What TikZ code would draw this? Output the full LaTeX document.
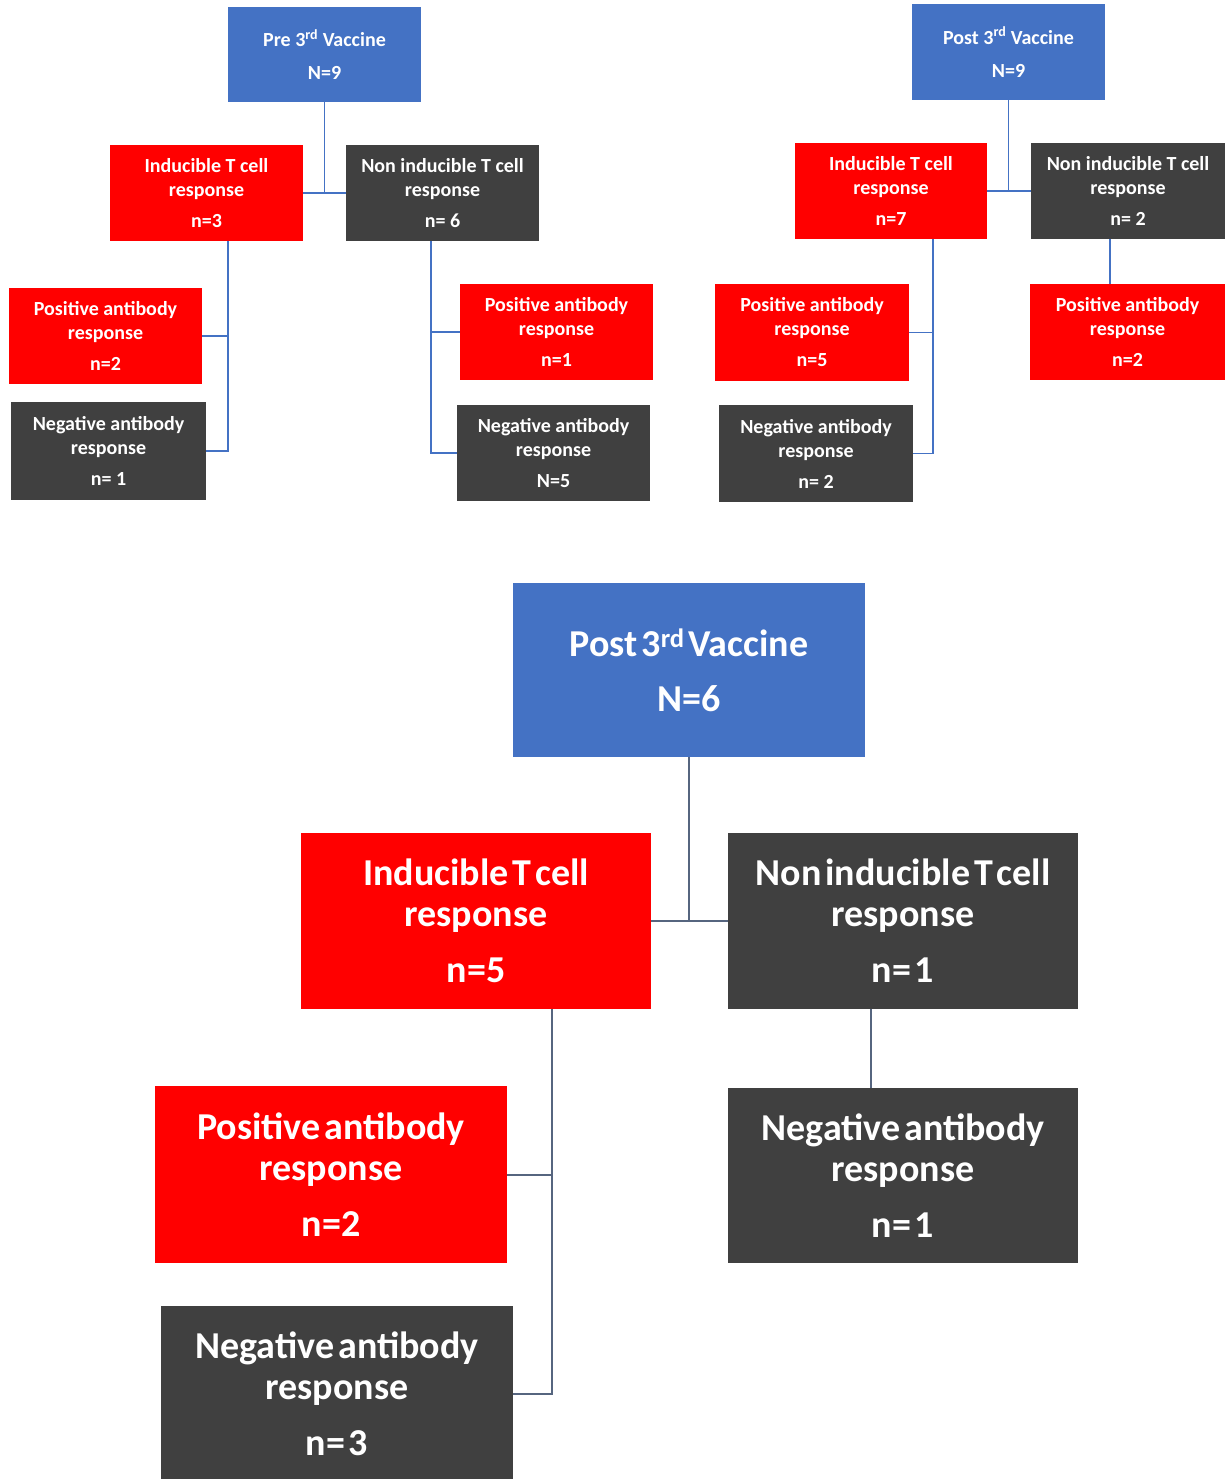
\documentclass[tikz,border=0pt]{standalone}
\usepackage{fontspec}
\setmainfont{Carlito}
\newfontfamily\bigf[WordSpace=0.45]{Carlito}
\usetikzlibrary{calc}
\definecolor{bblue}{HTML}{4472C4}
\definecolor{bred}{HTML}{FF0000}
\definecolor{bdark}{HTML}{404040}
\definecolor{lblue}{HTML}{4472C4}
\definecolor{lslate}{HTML}{56657F}
\begin{document}
\begin{tikzpicture}[x=1pt,y=-1pt,
  sz/.style 2 args={minimum width=#1pt, minimum height=#2pt},
  box/.style={rectangle, inner sep=0pt, align=center, text=white,
    font=\fontsize{20}{24}\selectfont\bfseries},
  big/.style={rectangle, inner sep=0pt, align=center, text=white,
    font=\bigf\fontsize{38}{41}\selectfont\bfseries},
  redbox/.style={fill=bred},
  darkbox/.style={fill=bdark},
  bluebox/.style={fill=bblue},
  thinline/.style={draw=lblue, line width=1.5pt},
  thickline/.style={draw=lslate, line width=2pt}]
\useasboundingbox (0,0) rectangle (1226,1479);

% ---------- top left: Pre 3rd vaccine ----------
\node[box,bluebox,sz={193}{95}] (pre) at (324.5,54.5) {Pre 3\textsuperscript{rd} Vaccine\\[9pt]N=9};
\node[box,redbox,sz={193}{96}] (i1) at (206.5,193) {Inducible T cell\\response\\[7pt]n=3};
\node[box,darkbox,sz={193}{96}] (n1) at (442.5,193) {Non inducible T cell\\response\\[7pt]n= 6};
\node[box,redbox,sz={193}{96}] (p1) at (105.5,336) {Positive antibody\\response\\[7pt]n=2};
\node[box,darkbox,sz={195}{98}] (g1) at (108.5,451) {Negative antibody\\response\\[7pt]n= 1};
\node[box,redbox,sz={193}{96}] (p2) at (556.5,332) {Positive antibody\\response\\[7pt]n=1};
\node[box,darkbox,sz={193}{96}] (g2) at (553.5,453) {Negative antibody\\response\\[7pt]N=5};

\draw[thinline] (pre.south) -- (pre.south |- i1.east);
\draw[thinline] (i1.east) -- (n1.west);
\coordinate (j1) at (228,241);
\draw[thinline] (j1) |- (g1.east);
\draw[thinline] (j1 |- p1.east) -- (p1.east);
\coordinate (j2) at (431,241);
\draw[thinline] (j2) |- (g2.west);
\draw[thinline] (j2 |- p2.west) -- (p2.west);

% ---------- top right: Post 3rd vaccine ----------
\node[box,bluebox,sz={193}{96}] (post) at (1008.5,52) {Post 3\textsuperscript{rd} Vaccine\\[9pt]N=9};
\node[box,redbox,sz={192}{96}] (i2) at (891,191) {Inducible T cell\\response\\[7pt]n=7};
\node[box,darkbox,sz={194}{96}] (n2) at (1128,191) {Non inducible T cell\\response\\[7pt]n= 2};
\node[box,redbox,sz={194}{97}] (p3) at (812,332.5) {Positive antibody\\response\\[7pt]n=5};
\node[box,darkbox,sz={194}{97}] (g3) at (816,453.5) {Negative antibody\\response\\[7pt]n= 2};
\node[box,redbox,sz={195}{96}] (p4) at (1127.5,332) {Positive antibody\\response\\[7pt]n=2};

\draw[thinline] (post.south) -- (post.south |- i2.east);
\draw[thinline] (i2.east) -- (n2.west);
\coordinate (j3) at (933,239);
\draw[thinline] (j3) |- (g3.east);
\draw[thinline] (j3 |- p3.east) -- (p3.east);
\coordinate (j4) at (1110,239);
\draw[thinline] (j4) -- (j4 |- p4.north);

% ---------- bottom: Post 3rd vaccine N=6 ----------
\node[big,bluebox,sz={352}{174}] (post6) at (689,670) {Post 3\textsuperscript{rd} Vaccine\\[14pt]N=6};
\node[big,redbox,sz={350}{176}] (i3) at (476,921) {Inducible T cell\\response\\[15pt]n=5};
\node[big,darkbox,sz={350}{176}] (n3) at (903,921) {Non inducible T cell\\response\\[15pt]n= 1};
\node[big,redbox,sz={352}{177}] (p5) at (331,1174.5) {Positive antibody\\response\\[15pt]n=2};
\node[big,darkbox,sz={352}{176}] (g5) at (337,1394) {Negative antibody\\response\\[15pt]n= 3};
\node[big,darkbox,sz={350}{175}] (g6) at (903,1175.5) {Negative antibody\\response\\[15pt]n= 1};

\draw[thickline] (post6.south) -- (post6.south |- i3.east);
\draw[thickline] (i3.east) -- (n3.west);
\coordinate (j5) at (552,1009);
\draw[thickline] (j5) |- (g5.east);
\draw[thickline] (j5 |- p5.east) -- (p5.east);
\coordinate (j6) at (871,1009);
\draw[thickline] (j6) -- (j6 |- g6.north);
\end{tikzpicture}
\end{document}
